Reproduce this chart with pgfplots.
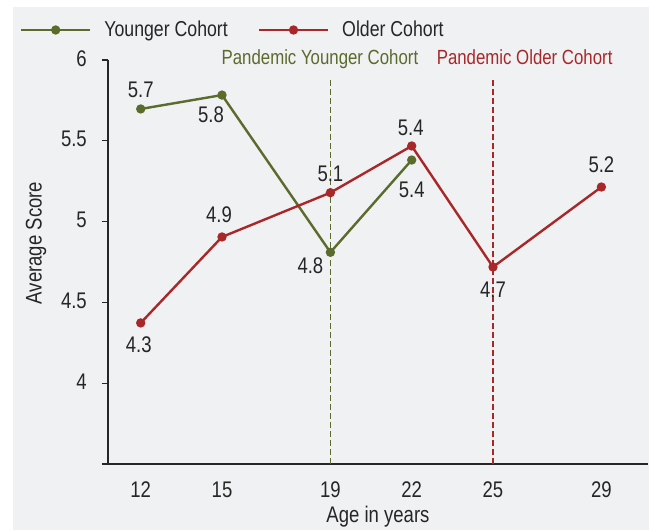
\documentclass[border=0pt]{standalone}
\usepackage{fontspec}
\setmainfont{Liberation Sans}[FakeStretch=0.82]
\usepackage{pgfplots}
\usepackage{pgfplotstable}
\pgfplotsset{compat=1.18}
\definecolor{cgreen}{RGB}{90,107,44}
\definecolor{cred}{RGB}{168,40,42}
\definecolor{bg}{RGB}{240,241,243}
\definecolor{txt}{RGB}{38,38,38}

\pgfplotstableread{
x y lab dx dy
12 5.697 5.7 0 19
15 5.783 5.8 -11 -20
19 4.810 4.8 -20 -13
22 5.381 5.4 0 -30
}\young
\pgfplotstableread{
x y lab dx dy
12 4.373 4.3 -2 -22
15 4.905 4.9 -3 22
19 5.179 5.1 0 19
22 5.468 5.4 -1 18
25 4.719 4.7 0 -23
29 5.214 5.2 0 22
}\older

\pgfplotsset{labelled/.style={
  nodes near coords={\pgfplotspointmeta},
  point meta=explicit symbolic,
  visualization depends on={\thisrow{dx} \as \dx},
  visualization depends on={\thisrow{dy} \as \dy},
  every node near coord/.append style={anchor=center, inner sep=0pt, text=txt, xshift=\dx bp, yshift=\dy bp},
},
tickseg/.style={color=txt, line width=1.2bp, forget plot}}

\begin{document}
\fontsize{22.6bp}{27bp}\selectfont
\begin{tikzpicture}
\path[use as bounding box] (0,0) rectangle (649bp,531bp);
\fill[bg] (13bp,1bp) rectangle (649bp,524bp);
\begin{axis}[
  at={(108bp,67bp)}, anchor=south west,
  scale only axis, width=540bp, height=404bp,
  xmin=10.793, xmax=30.72, ymin=3.5, ymax=6,
  axis lines*=left,
  axis line style={draw=txt, line width=1.3bp},
  xtick={12,15,19,22,25,29},
  xticklabels={12,15,19,22,25,29},
  ytick={3.5,4,4.5,5,5.5,6},
  yticklabels={,4,4.5,5,5.5,6},
  tick align=outside,
  major tick length=6bp,
  tick style={color=txt, line width=1.2bp},
  xtick style={draw=none},
  xticklabel style={anchor=base, inner sep=0pt, yshift=-27bp, text=txt},
  yticklabel style={anchor=east, inner sep=0pt, xshift=-15bp, yshift=1.5bp, text=txt},
  xlabel={Age in years}, ylabel={Average Score},
  every axis x label/.style={at={(0.5,-0.1453)}, anchor=base, text=txt},
  every axis y label/.style={at={(-0.1333,0.547)}, anchor=center, rotate=90, text=txt},
  clip=false,
  legend columns=2,
  legend style={at={(0,1)}, anchor=west, xshift=-88bp, yshift=30bp,
    draw=none, fill=none, inner sep=0pt, outer sep=0pt,
    nodes={inner sep=0pt, text=txt, font=\fontsize{21.6bp}{26bp}\selectfont},
    /tikz/every odd column/.append style={column sep=13bp},
    /tikz/every even column/.append style={column sep=30bp}},
  legend image code/.code={\draw[mark repeat=2,mark phase=2,#1] plot coordinates {(0bp,0bp) (34.5bp,0bp) (69bp,0bp)};},
]
% y tick marks
\addplot[tickseg] coordinates {(10.572,3.5) (10.793,3.5)};
\addplot[tickseg] coordinates {(10.572,4) (10.793,4)};
\addplot[tickseg] coordinates {(10.572,4.5) (10.793,4.5)};
\addplot[tickseg] coordinates {(10.572,5) (10.793,5)};
\addplot[tickseg] coordinates {(10.572,5.5) (10.793,5.5)};
\addplot[tickseg] coordinates {(10.572,6) (10.793,6)};
% pandemic reference lines
\addplot[color=cgreen, line width=1.4bp, dash pattern=on 6bp off 3bp, forget plot] coordinates {(19,3.5) (19,5.89)};
\addplot[color=cred, line width=1.5bp, dash pattern=on 6bp off 3bp, forget plot] coordinates {(25,3.5) (25,5.89)};
\addplot[cgreen, line width=2.4bp, mark=*, mark size=3.4bp, mark options={solid}, labelled] table[x=x, y=y, meta=lab] {\young};
\addlegendentry{Younger Cohort}
\addplot[cred, line width=2.4bp, mark=*, mark size=3.4bp, mark options={solid}, labelled] table[x=x, y=y, meta=lab] {\older};
\addlegendentry{Older Cohort}
\node[anchor=base west, inner sep=0pt, text=cgreen, font=\fontsize{20.5bp}{24bp}\selectfont] at (axis cs:14.98,5.975) {Pandemic Younger Cohort};
\node[anchor=base west, inner sep=0pt, text=cred, font=\fontsize{20.5bp}{24bp}\selectfont] at (axis cs:22.92,5.975) {Pandemic Older Cohort};
\end{axis}
\end{tikzpicture}
\end{document}
